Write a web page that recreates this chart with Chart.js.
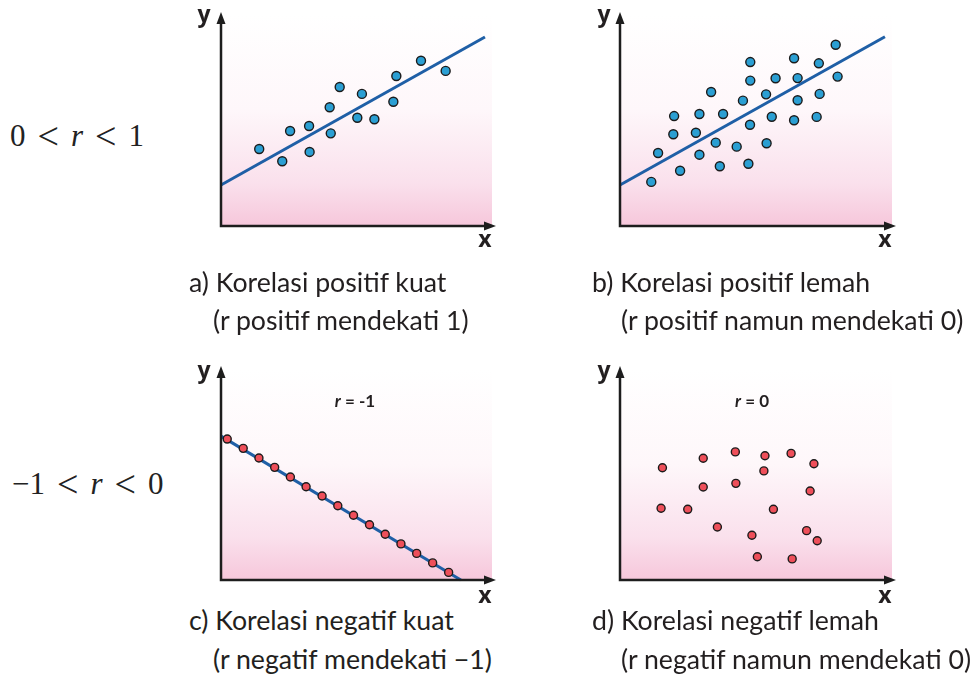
<!DOCTYPE html>
<html>
<head>
<meta charset="utf-8">
<script src="https://cdn.jsdelivr.net/npm/chart.js@4"></script>
<style>
  body { margin: 0; background: #fff; }
  #page { position: relative; width: 971px; height: 674px; overflow: hidden; }
  .panel { position: absolute; }
  .lbl { position: absolute; font-family: "Open Sans", sans-serif; font-weight: 700; font-size: 23px; line-height: 1; color: #231f20; transform: translateX(-50%); }
  .rlbl { position: absolute; font-family: Lato, sans-serif; font-weight: 700; font-size: 17px; color: #231f20; transform: translate(-50%, -50%); white-space: pre; }
  .cap { position: absolute; font-family: Lato, sans-serif; font-size: 26.7px; line-height: 38px; color: #231f20; white-space: pre; }
  .math { position: absolute; font-family: "Liberation Serif", serif; font-size: 31px; color: #222; display: flex; gap: 12px; align-items: center; transform: translateY(-50%); }
  .math i { font-style: italic; }
  .math .lt { font-size: 38px; line-height: 31px; }
</style>
</head>
<body>
<div id="page">
  <canvas class="panel" id="chartA" width="310" height="260" style="left:190px;top:0px"></canvas>
  <canvas class="panel" id="chartB" width="310" height="260" style="left:590px;top:0px"></canvas>
  <canvas class="panel" id="chartC" width="310" height="240" style="left:190px;top:360px"></canvas>
  <canvas class="panel" id="chartD" width="310" height="240" style="left:590px;top:360px"></canvas>

  <div class="math" style="left:10px;top:136px"><span>0</span><span class="lt">&lt;</span><i>r</i><span class="lt">&lt;</span><span>1</span></div>
  <div class="math" style="left:12px;top:484px"><span>&minus;1</span><span class="lt">&lt;</span><i>r</i><span class="lt">&lt;</span><span>0</span></div>

  <div class="lbl" style="left:204px;top:2px">y</div>
  <div class="lbl" style="left:485px;top:227px">x</div>
  <div class="lbl" style="left:604px;top:2px">y</div>
  <div class="lbl" style="left:885px;top:227px">x</div>
  <div class="lbl" style="left:204px;top:358px">y</div>
  <div class="lbl" style="left:485px;top:583px">x</div>
  <div class="lbl" style="left:604px;top:358px">y</div>
  <div class="lbl" style="left:885px;top:583px">x</div>

  <div class="rlbl" style="left:355px;top:400px"><i>r</i> = -1</div>
  <div class="rlbl" style="left:752px;top:400px"><i>r</i> = 0</div>

  <div class="cap" style="left:189px;top:263px">a) Korelasi positif kuat</div>
  <div class="cap" style="left:213px;top:301px">(r positif mendekati 1)</div>
  <div class="cap" style="left:592px;top:263px">b) Korelasi positif lemah</div>
  <div class="cap" style="left:621px;top:301px">(r positif namun mendekati 0)</div>
  <div class="cap" style="left:189px;top:601px">c) Korelasi negatif kuat</div>
  <div class="cap" style="left:213px;top:640px">(r negatif mendekati &minus;1)</div>
  <div class="cap" style="left:592px;top:601px">d) Korelasi negatif lemah</div>
  <div class="cap" style="left:621px;top:640px">(r negatif namun mendekati 0)</div>
</div>

<script>
// a) strong positive
const strongPosX = [14.1, 22.6, 25.5, 32.5, 32.7, 40.1, 40.5, 43.8, 50.3, 52.0, 56.6, 63.6, 64.7, 73.8, 82.9];
const strongPosY = [36.5, 30.7, 45.0, 47.4, 35.1, 56.3, 43.9, 65.9, 51.3, 62.6, 50.6, 58.9, 71.1, 78.3, 73.5];
const strongPosLineX = [0, 97.4];
const strongPosLineY = [19.4, 89.6];

// b) weak positive
const weakPosX = [11.5, 14.0, 22.1, 19.9, 19.6, 27.9, 29.2, 29.2, 33.5, 35.2, 36.7, 37.9, 42.9, 45.2, 47.2, 47.8,
  47.9, 47.9, 53.7, 53.9, 55.8, 57.2, 64.0, 64.0, 65.3, 65.3, 72.3, 73.1, 73.4, 79.3, 80.0];
const weakPosY = [20.9, 34.6, 26.2, 52.1, 43.5, 44.2, 53.1, 33.8, 63.5, 39.5, 28.3, 53.1, 37.6, 59.4, 29.5, 48.0,
  68.9, 77.7, 62.4, 39.2, 51.8, 70.0, 79.5, 50.1, 70.1, 59.6, 51.7, 77.1, 62.6, 85.9, 70.8];
const weakPosLineX = [0, 97.4];
const weakPosLineY = [19.4, 89.7];

// c) strong negative (r = -1)
const strongNegX = [2.3, 8.2, 14.0, 19.8, 25.6, 31.4, 37.3, 43.1, 48.9, 54.8, 60.6, 66.4, 72.2, 78.1, 84.0];
const strongNegY = [66.8, 62.4, 57.8, 53.4, 48.8, 44.2, 39.8, 35.2, 30.7, 26.2, 21.7, 17.1, 12.6, 8.1, 3.6];
const strongNegLineX = [0, 88.5];
const strongNegLineY = [68.2, 0];

// d) no correlation (r = 0)
const noCorrX = [15.6, 30.6, 42.4, 53.3, 62.9, 71.3, 52.9, 30.6, 42.6, 69.9, 15.1, 24.9, 56.4, 35.8, 48.5, 68.6, 72.5, 50.5, 63.3];
const noCorrY = [53.2, 57.7, 60.7, 58.9, 60.0, 55.1, 51.7, 44.1, 45.8, 42.2, 34.0, 33.5, 33.5, 25.1, 21.2, 23.4, 18.6, 11.0, 10.0];

const blueDot = '#2b9fd3';
const redDot = '#ee4f5a';
const lineBlue = '#1f5fa6';

function toPoints(xs, ys) {
  return xs.map((x, i) => ({ x: x, y: ys[i] }));
}

// pink background + axes with arrow heads
const panelPlugin = {
  id: 'panel',
  beforeDatasetsDraw(chart) {
    const { ctx, chartArea: a } = chart;
    const g = ctx.createLinearGradient(0, a.top, 0, a.bottom);
    g.addColorStop(0, '#ffffff');
    g.addColorStop(0.45, '#fef7fa');
    g.addColorStop(0.8, '#fae0ec');
    g.addColorStop(1, '#f6c7db');
    ctx.save();
    ctx.fillStyle = g;
    ctx.fillRect(a.left, a.top, a.right - a.left, a.bottom - a.top);
    ctx.restore();
  },
  afterDraw(chart) {
    const { ctx, chartArea: a } = chart;
    ctx.save();
    ctx.strokeStyle = '#1d1d1d';
    ctx.fillStyle = '#1d1d1d';
    ctx.lineWidth = 2.5;
    ctx.beginPath();
    ctx.moveTo(a.left, a.top + 8);
    ctx.lineTo(a.left, a.bottom);
    ctx.lineTo(a.right - 4, a.bottom);
    ctx.stroke();
    // y arrow
    ctx.beginPath();
    ctx.moveTo(a.left, a.top - 3);
    ctx.lineTo(a.left - 4.5, a.top + 9);
    ctx.lineTo(a.left + 4.5, a.top + 9);
    ctx.closePath();
    ctx.fill();
    // x arrow
    ctx.beginPath();
    ctx.moveTo(a.right + 4, a.bottom);
    ctx.lineTo(a.right - 8, a.bottom - 4.5);
    ctx.lineTo(a.right - 8, a.bottom + 4.5);
    ctx.closePath();
    ctx.fill();
    ctx.restore();
  }
};

function makeChart(id, dots, dotColor, radius, line, padding) {
  const datasets = [{
    data: dots,
    backgroundColor: dotColor,
    borderColor: '#1b1b1b',
    borderWidth: 1.4,
    pointRadius: radius,
    clip: false
  }];
  if (line) {
    datasets.push({
      data: line,
      showLine: true,
      borderColor: lineBlue,
      borderWidth: 3,
      pointRadius: 0,
      clip: false
    });
  }
  return new Chart(document.getElementById(id), {
    type: 'scatter',
    data: { datasets: datasets },
    options: {
      responsive: false,
      animation: false,
      devicePixelRatio: 1,
      layout: { padding: padding },
      plugins: { legend: { display: false }, tooltip: { enabled: false } },
      scales: {
        x: { display: false, min: 0, max: 100 },
        y: { display: false, min: 0, max: 100 }
      }
    },
    plugins: [panelPlugin]
  });
}

makeChart('chartA', toPoints(strongPosX, strongPosY), blueDot, 4.5,
  toPoints(strongPosLineX, strongPosLineY), { left: 31, top: 15, right: 8, bottom: 34 });
makeChart('chartB', toPoints(weakPosX, weakPosY), blueDot, 4.5,
  toPoints(weakPosLineX, weakPosLineY), { left: 30, top: 15, right: 8, bottom: 34 });
makeChart('chartC', toPoints(strongNegX, strongNegY), redDot, 4,
  toPoints(strongNegLineX, strongNegLineY), { left: 31, top: 9, right: 8, bottom: 20 });
makeChart('chartD', toPoints(noCorrX, noCorrY), redDot, 4,
  null, { left: 30, top: 9, right: 8, bottom: 20 });
</script>
</body>
</html>
